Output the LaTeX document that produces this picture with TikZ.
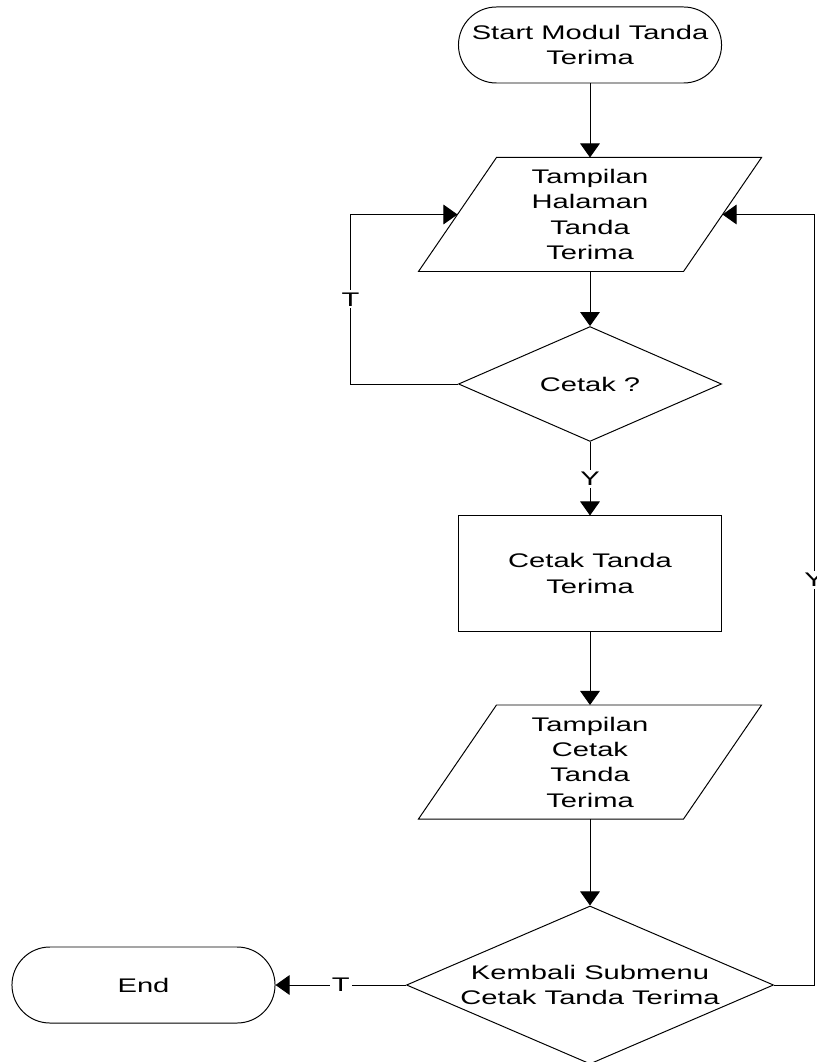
\documentclass[tikz,border=0pt]{standalone}
\usepackage{fontspec}
\newfontfamily\chartfont{Liberation Sans}[FakeStretch=1.48]
\usepackage{tikz}
\usetikzlibrary{shapes.geometric,arrows.meta}

\begin{document}
\begin{tikzpicture}[x=0.025cm,y=-0.025cm,line width=0.7pt,
  >={Triangle[length=10pt,width=14pt]},
  every node/.style={font=\chartfont\fontsize{14}{18}\selectfont,align=center},
  term/.style={draw,rectangle,rounded corners=0.95cm,minimum width=6.575cm,minimum height=1.9cm},
  iobox/.style={minimum width=6.6cm,minimum height=2.825cm},
  proc/.style={draw,rectangle,minimum width=6.575cm,minimum height=2.875cm},
  dec/.style={draw,diamond,inner sep=0pt},
  lbl/.style={fill=white,inner sep=1.5pt}]
\useasboundingbox (0,0) rectangle (816,1062);
\clip (0,0) rectangle (816,1062);
\node[term] (start) at (590,45) {Start Modul Tanda\\Terima};
\node[iobox] (p1) at (590,214.5) {Tampilan\\Halaman\\Tanda\\Terima};
\node[dec,minimum width=6.575cm,minimum height=2.825cm] (d1) at (590,384) {Cetak ?};
\node[proc] (r1) at (590,573.5) {Cetak Tanda\\Terima};
\node[iobox] (p2) at (590,762) {Tampilan\\Cetak\\Tanda\\Terima};
\node[dec,minimum width=9.175cm,minimum height=3.95cm] (d2) at (590,985) {};
\node (d2t) at (d2) {Kembali Submenu\\Cetak Tanda Terima};
\node[term] (end) at (143.5,985) {End};
% parallelograms round the text boxes
\foreach \n in {p1,p2}
  \draw ([xshift=0.975cm]\n.north west) -- ([xshift=0.975cm]\n.north east)
    -- ([xshift=-0.975cm]\n.south east) -- ([xshift=-0.975cm]\n.south west) -- cycle;
\draw[->] (start.south) -- (p1.north);
\draw[->] (p1.south) -- (d1.north);
\draw[->] (d1.west) -- ++(-107.5,0) |- node[pos=0.25,lbl]{T} (p1.west);
\draw[->] (d1.south) -- node[lbl]{Y} (r1.north);
\draw[->] (r1.south) -- (p2.north);
\draw[->] (p2.south) -- (d2.north);
\draw[->] (d2.west) -- node[lbl]{T} (end.east);
\draw[->] (d2.east) -- ++(40,0) |- node[pos=0.263,lbl]{Y} (p1.east);
\end{tikzpicture}
\end{document}
